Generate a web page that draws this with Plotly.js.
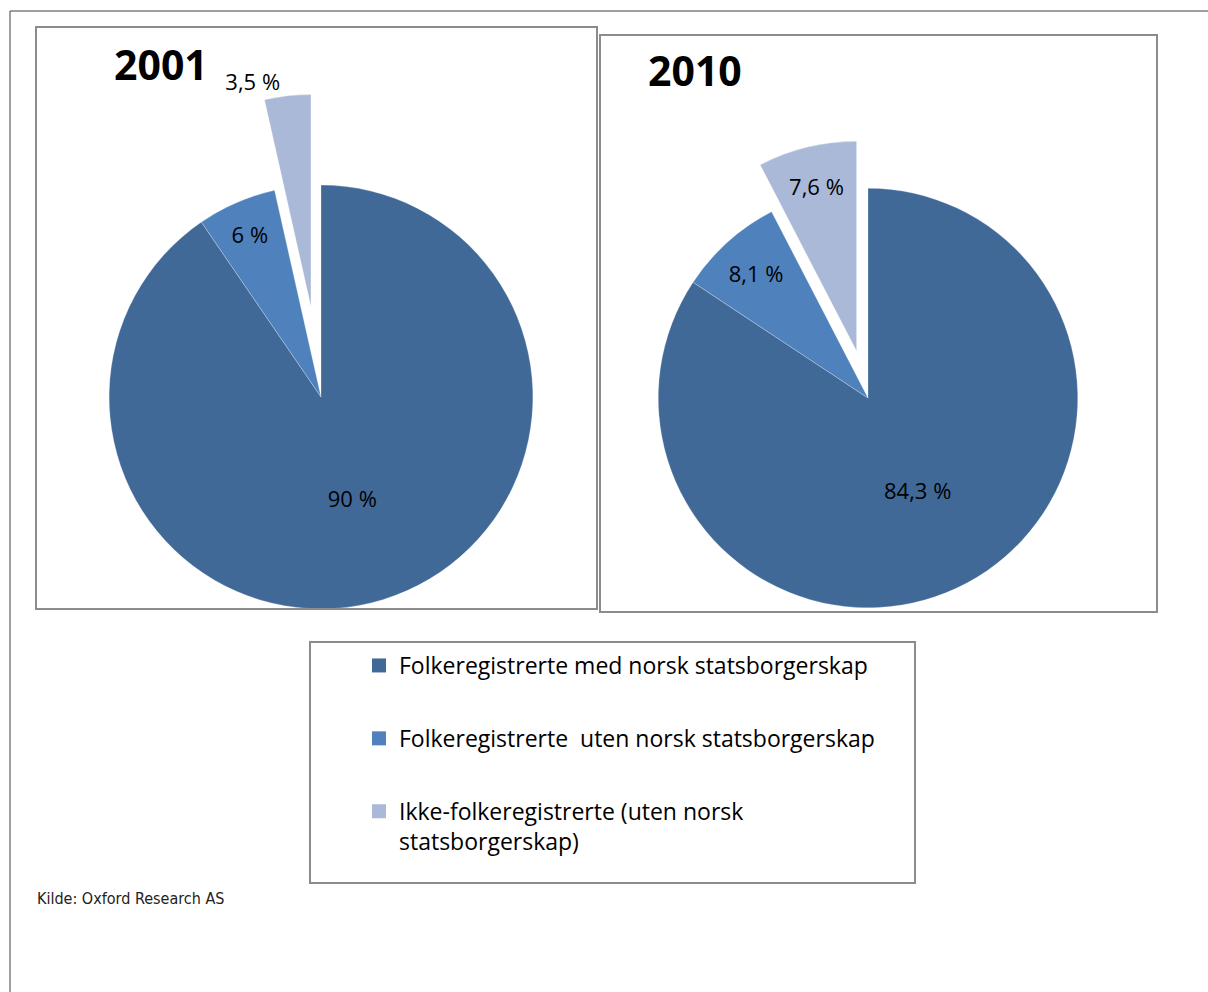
<!DOCTYPE html>
<html>
<head>
<meta charset="utf-8">
<script src="https://cdn.plot.ly/plotly-3.0.1.min.js"></script>
<style>
  body { margin: 0; background: #fff; }
  #chart { width: 1208px; height: 992px; }
</style>
</head>
<body>
<div id="chart"></div>
<script>
var W = 1208, H = 992;

var categories = [
    "Folkeregistrerte med norsk statsborgerskap",
    "Folkeregistrerte  uten norsk statsborgerskap",
    "Ikke-folkeregistrerte (uten norsk<br>statsborgerskap)"
];
var colors = ["#416998", "#4F81BD", "#A9B9D7"];

var values2001 = [90, 6, 3.5];
var labels2001 = ["90 %", "6 %", "3,5 %"];
var values2010 = [84.3, 8.1, 7.6];
var labels2010 = ["84,3 %", "8,1 %", "7,6 %"];

var pull2001 = [0, 0, 0.43];
var pull2010 = [0, 0, 0.23];

// pixel helpers (margins are zero, so paper == page)
function px(x) { return x / W; }
function py(y) { return 1 - y / H; }

var labelFont = {family: "Open Sans, sans-serif", size: 22, color: "#000"};

var pie2001 = {
    type: "pie",
    labels: categories,
    values: values2001,
    text: labels2001,
    textinfo: "text",
    textposition: ["inside", "inside", "outside"],
    insidetextorientation: "horizontal",
    textfont: labelFont,
    sort: false,
    direction: "clockwise",
    rotation: 0,
    pull: pull2001,
    marker: {colors: colors, line: {color: "rgba(255,255,255,0.5)", width: 0.5}},
    domain: {x: [px(18), px(624)], y: [py(700), py(94)]},
    showlegend: false,
    hoverinfo: "label+text"
};

var pie2010 = {
    type: "pie",
    labels: categories,
    values: values2010,
    text: labels2010,
    textinfo: "text",
    textposition: "inside",
    insidetextorientation: "horizontal",
    textfont: labelFont,
    sort: false,
    direction: "clockwise",
    rotation: 0,
    pull: pull2010,
    marker: {colors: colors, line: {color: "rgba(255,255,255,0.5)", width: 0.5}},
    domain: {x: [px(610), px(1126)], y: [py(656), py(140)]},
    showlegend: false,
    hoverinfo: "label+text"
};

// legend entries (one per category, separate groups for spacing)
var legendTraces = categories.map(function (c, i) {
    return {
        type: "scatter",
        mode: "markers",
        x: [null], y: [null],
        name: c,
        legendgroup: "g" + i,
        marker: {symbol: "square", size: 14, color: colors[i]},
        hoverinfo: "skip"
    };
});

var boxLine = {color: "#8C8C8C", width: 2};
var shapes = [
    {type: "line", xref: "paper", yref: "paper", x0: px(10), x1: 1, y0: py(11), y1: py(11), line: {color: "#404040", width: 1}},
    {type: "line", xref: "paper", yref: "paper", x0: px(10), x1: px(10), y0: py(11), y1: 0, line: {color: "#404040", width: 1}},
    {type: "rect", xref: "paper", yref: "paper", x0: px(36), x1: px(597), y0: py(609), y1: py(27), line: boxLine},
    {type: "rect", xref: "paper", yref: "paper", x0: px(600), x1: px(1157), y0: py(612), y1: py(35), line: boxLine},
    {type: "rect", xref: "paper", yref: "paper", x0: px(310), x1: px(915), y0: py(883), y1: py(642), line: boxLine}
];

var titleFont = {family: "Open Sans, sans-serif", size: 41, color: "#000"};
var annotations = [
    {text: "<b>2001</b>", xref: "paper", yref: "paper", x: px(161), y: py(64),
     xanchor: "center", yanchor: "middle", showarrow: false, font: titleFont},
    {text: "<b>2010</b>", xref: "paper", yref: "paper", x: px(695), y: py(70),
     xanchor: "center", yanchor: "middle", showarrow: false, font: titleFont},
    {text: "Kilde: Oxford Research AS", xref: "paper", yref: "paper", x: px(35), y: py(898),
     xanchor: "left", yanchor: "middle", showarrow: false,
     font: {family: "Liberation Sans Narrow, DejaVu Sans Condensed, sans-serif", size: 16, color: "#222"}}
];

var layout = {
    width: W,
    height: H,
    margin: {l: 0, r: 0, t: 0, b: 0},
    paper_bgcolor: "#fff",
    plot_bgcolor: "#fff",
    xaxis: {visible: false, range: [0, 1]},
    yaxis: {visible: false, range: [0, 1]},
    shapes: shapes,
    annotations: annotations,
    showlegend: true,
    legend: {
        x: px(359), y: py(644), xanchor: "left", yanchor: "top",
        bgcolor: "rgba(0,0,0,0)", borderwidth: 0,
        font: {family: "Open Sans, sans-serif", size: 23, color: "#000"},
        tracegroupgap: 40,
        valign: "top",
        traceorder: "grouped"
    }
};

Plotly.newPlot("chart", [pie2001, pie2010].concat(legendTraces), layout, {displayModeBar: false, staticPlot: true});
</script>
</body>
</html>
